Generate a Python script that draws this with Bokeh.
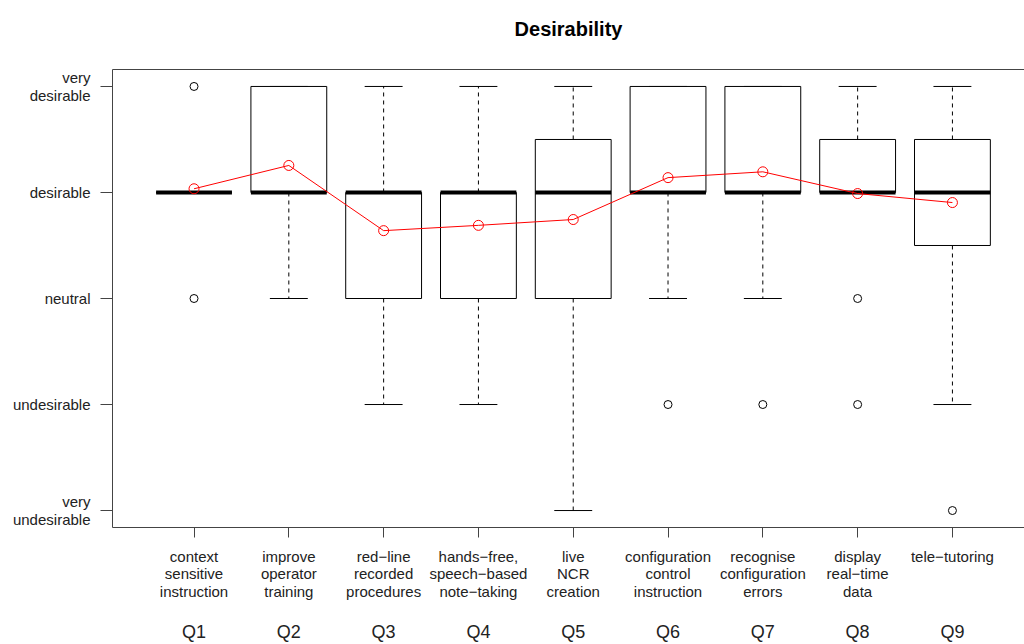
from bokeh.plotting import figure
from bokeh.models import LinearAxis, FixedTicker, Range1d
from bokeh.embed import file_html
from bokeh.resources import INLINE

# ---------------- data ----------------
questions = ["Q1", "Q2", "Q3", "Q4", "Q5", "Q6", "Q7", "Q8", "Q9"]
descriptions = [
    "context\nsensitive\ninstruction",
    "improve\noperator\ntraining",
    "red\u2212line\nrecorded\nprocedures",
    "hands\u2212free,\nspeech\u2212based\nnote\u2212taking",
    "live\nNCR\ncreation",
    "configuration\ncontrol\ninstruction",
    "recognise\nconfiguration\nerrors",
    "display\nreal\u2212time\ndata",
    "tele\u2212tutoring",
]
level_values = [1, 2, 3, 4, 5]
level_labels = ["very\nundesirable", "undesirable", "neutral", "desirable", "very\ndesirable"]

whisker_low = [4, 3, 2, 2, 1, 3, 3, 4, 2]
box_q1 = [4, 4, 3, 3, 3, 4, 4, 4, 3.5]
median = [4, 4, 4, 4, 4, 4, 4, 4, 4]
box_q3 = [4, 5, 4, 4, 4.5, 5, 5, 4.5, 4.5]
whisker_high = [4, 5, 5, 5, 5, 5, 5, 5, 5]
means = [4.035, 4.255, 3.64, 3.69, 3.745, 4.14, 4.195, 3.99, 3.905]

outlier_q = [1, 1, 6, 7, 8, 8, 9]
outlier_val = [5, 3, 2, 2, 3, 2, 1]

# ---------------- figure ----------------
FONT = "Liberation Sans"
AXIS_COL = "#444444"
positions = list(range(1, len(questions) + 1))
box_half = 0.4
cap_half = 0.2

p = figure(width=1024, height=644, output_backend="svg", toolbar_location=None,
           x_range=Range1d(0.14, 0.14 + 912 / 94.8), y_range=Range1d(0.84, 5.16),
           x_axis_location=None, y_axis_location=None,
           min_border_left=112, min_border_right=0, min_border_top=69,
           min_border_bottom=116)
p.outline_line_color = None
p.xgrid.visible = False
p.ygrid.visible = False
p.background_fill_color = "white"
p.border_fill_color = "white"

p.title.text = "Desirability"
p.title.align = "center"
p.title.text_font = FONT
p.title.text_font_size = "20px"
p.title.text_font_style = "bold"
p.title.text_color = "black"
p.title.standoff = 10

# left axis
yaxis = LinearAxis(ticker=FixedTicker(ticks=level_values),
                   major_label_overrides={v: t for v, t in zip(level_values, level_labels)})
yaxis.major_tick_in = 0
yaxis.major_tick_out = 12
yaxis.minor_tick_line_color = None
yaxis.major_label_standoff = 10
yaxis.axis_line_color = AXIS_COL
yaxis.major_tick_line_color = AXIS_COL
yaxis.major_label_text_font = FONT
yaxis.major_label_text_font_size = "15px"
yaxis.major_label_text_line_height = 1.05
yaxis.major_label_text_color = "#222222"
yaxis.major_label_orientation = "horizontal"
p.add_layout(yaxis, "left")

# bottom axis (descriptions)
xaxis = LinearAxis(ticker=FixedTicker(ticks=positions),
                   major_label_overrides={v: t for v, t in zip(positions, descriptions)})
xaxis.major_tick_in = 0
xaxis.major_tick_out = 10
xaxis.minor_tick_line_color = None
xaxis.major_label_standoff = 10
xaxis.axis_line_color = AXIS_COL
xaxis.major_tick_line_color = AXIS_COL
xaxis.major_label_text_font = FONT
xaxis.major_label_text_font_size = "15px"
xaxis.major_label_text_line_height = 1.05
xaxis.major_label_text_color = "#222222"
p.add_layout(xaxis, "below")

# second bottom axis (question codes)
qaxis = LinearAxis(ticker=FixedTicker(ticks=positions),
                   major_label_overrides={v: t for v, t in zip(positions, questions)})
qaxis.major_tick_line_color = None
qaxis.minor_tick_line_color = None
qaxis.axis_line_color = None
qaxis.major_label_standoff = 12
qaxis.major_label_text_font = FONT
qaxis.major_label_text_font_size = "18px"
qaxis.major_label_text_color = "#222222"
p.add_layout(qaxis, "below")

# top border line (an invisible tick reserves room below the title)
top_axis = LinearAxis(ticker=FixedTicker(ticks=[5]), major_label_overrides={5: ""})
top_axis.major_tick_in = 0
top_axis.major_tick_out = 25
top_axis.major_tick_line_color = None
top_axis.minor_tick_line_color = None
top_axis.major_label_text_color = None
top_axis.axis_line_color = AXIS_COL
p.add_layout(top_axis, "above")

# ---------------- boxplots ----------------
xs = positions
p.segment(x0=xs, y0=box_q3, x1=xs, y1=whisker_high, line_color="black",
          line_width=1, line_dash="4 4")
p.segment(x0=xs, y0=box_q1, x1=xs, y1=whisker_low, line_color="black",
          line_width=1, line_dash="4 4")
p.segment(x0=[x - cap_half for x in xs], y0=whisker_high,
          x1=[x + cap_half for x in xs], y1=whisker_high, line_color="black", line_width=1)
p.segment(x0=[x - cap_half for x in xs], y0=whisker_low,
          x1=[x + cap_half for x in xs], y1=whisker_low, line_color="black", line_width=1)
p.quad(left=[x - box_half for x in xs], right=[x + box_half for x in xs],
       bottom=box_q1, top=box_q3, fill_color="white", line_color="black", line_width=1)
p.segment(x0=[x - box_half for x in xs], y0=median,
          x1=[x + box_half for x in xs], y1=median, line_color="black",
          line_width=4, line_cap="butt")
p.scatter(x=outlier_q, y=outlier_val, marker="circle", size=8,
          fill_color=None, line_color="black", line_width=1)

p.line(x=xs, y=means, line_color="red", line_width=1)
p.scatter(x=xs, y=means, marker="circle", size=10, fill_color=None,
          line_color="red", line_width=1)

open("out.html", "w").write(file_html(p, INLINE))
